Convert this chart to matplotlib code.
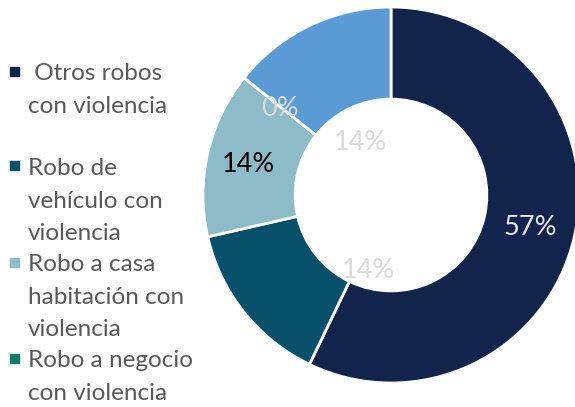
import matplotlib.pyplot as plt
from matplotlib.patches import Rectangle

# datos (número de casos, se muestran como porcentaje)
categorias = ['Otros robos con violencia', 'Robo de vehículo con violencia',
              'Robo a casa habitación con violencia', 'Robo a negocio con violencia',
              'Otros']
valores = [4, 1, 1, 0, 1]
colores = ['#12244B', '#07506A', '#8DBBC8', '#127A62', '#5B9BD5']
etiquetas_leyenda = [' Otros robos\ncon violencia', 'Robo de\nvehículo con\nviolencia',
                     'Robo a casa\nhabitación con\nviolencia', 'Robo a negocio\ncon violencia']

plt.rcParams['font.family'] = ['Lato', 'DejaVu Sans']

fig = plt.figure(figsize=(5.75, 4.07), dpi=100)
ax = fig.add_axes([203 / 575, 24 / 407, 376 / 575, 376 / 407])

total = sum(valores)
wedges, _ = ax.pie(valores, startangle=90, counterclock=False, colors=colores,
                   radius=1, wedgeprops=dict(width=0.49, edgecolor='white', linewidth=2))
ax.set_xlim(-1, 1)
ax.set_ylim(-1, 1)
ax.set_aspect('equal')
ax.axis('off')

# etiquetas de porcentaje (posiciones como en el original)
pct = [f'{round(v / total * 100)}%' for v in valores]
pos = [(0.74, -0.175), (-0.12, -0.40), (-0.76, 0.16), (-0.59, 0.46), (-0.165, 0.28)]
col_txt = ['#E6E6E6', '#D9D9D9', 'black', '#D9D9D9', '#D9D9D9']
for t, (x, y), c in zip(pct, pos, col_txt):
    ax.text(x, y, t, color=c, fontsize=19.5, ha='center', va='center')

# leyenda manual
y_lineas = [71, 166, 262, 358]
for lab, y, c in zip(etiquetas_leyenda, y_lineas, colores):
    fig.patches.append(Rectangle((10 / 575, 1 - (y + 4.5) / 407), 9 / 575, 9 / 407,
                                 transform=fig.transFigure, color=c, figure=fig))
    fig.text(28 / 575, 1 - (y - 8) / 407, lab, color='#595959', fontsize=17.5,
             ha='left', va='top', linespacing=1.68)

plt.savefig('out.png', dpi=100)
